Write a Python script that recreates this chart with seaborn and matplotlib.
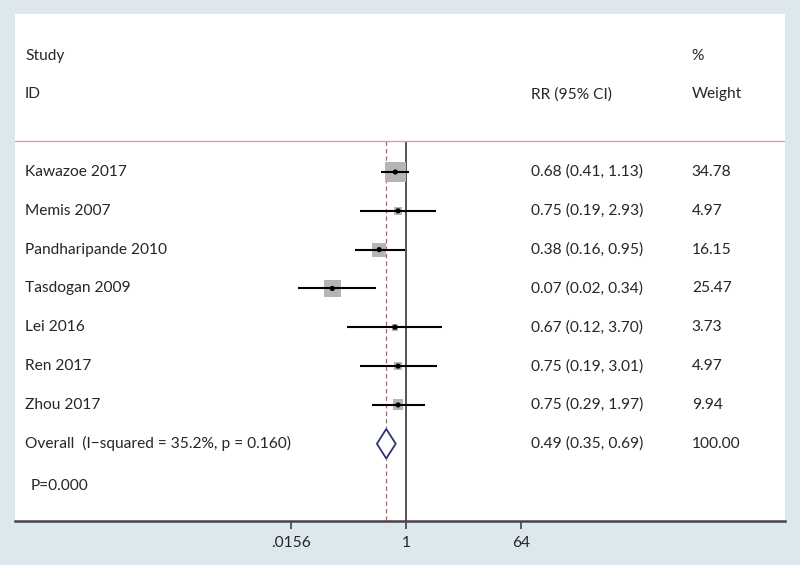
import numpy as np
import pandas as pd
import matplotlib.pyplot as plt
import seaborn as sns
from matplotlib.ticker import NullLocator
from matplotlib.transforms import blended_transform_factory

# data
studies = ["Kawazoe 2017", "Memis 2007", "Pandharipande 2010", "Tasdogan 2009",
           "Lei 2016", "Ren 2017", "Zhou 2017"]
rr = [0.68, 0.75, 0.38, 0.07, 0.67, 0.75, 0.75]
ci_low = [0.41, 0.19, 0.16, 0.02, 0.12, 0.19, 0.29]
ci_high = [1.13, 2.93, 0.95, 0.34, 3.70, 3.01, 1.97]
weights = [34.78, 4.97, 16.15, 25.47, 3.73, 4.97, 9.94]

overall_label = "Overall  (I\u2212squared = 35.2%, p = 0.160)"
overall_rr = 0.49
overall_low = 0.35
overall_high = 0.69
overall_weight = 100.00
p_label = "P=0.000"

tick_values = [1 / 64, 1, 64]
tick_labels = [".0156", "1", "64"]

sns.set_theme(style="white")
plt.rcParams['font.family'] = ['Lato', 'DejaVu Sans']
fs = 11.2

fig = plt.figure(figsize=(8, 5.65), dpi=100, facecolor="#dde8ee")
ax = fig.add_axes([15 / 800, 44 / 565, 770 / 800, 507 / 565])
ax.set_facecolor("white")

df = pd.DataFrame({
    "study": studies, "rr": rr, "lo": ci_low, "hi": ci_high,
    "w": weights, "row": np.arange(1, len(studies) + 1),
})
n = len(studies)
overall_row = n + 1
p_row = n + 2.08
header_y = 0.2

# pixel layout: 1 at x=406, 19.2 px per log2 unit
ppu = 19.2
ax.set_xscale("log", base=2)
ax.set_xlim(2 ** ((15 - 406) / ppu), 2 ** ((785 - 406) / ppu))
ax.set_ylim(9.99, -3.07)

# reference lines
ax.vlines(1, header_y, 9.99, color="#2b2222", lw=1.1, zorder=1)
ax.vlines(overall_rr, header_y, 9.99, color="#b3615c", lw=0.9,
          linestyles=(0, (3.5, 2.5)), zorder=1)
ax.axhline(header_y, color="#c8a8a6", lw=1.0)

# weight boxes
sns.scatterplot(data=df, x="rr", y="row", size="w",
                sizes=(6.2 * min(weights), 6.2 * max(weights)),
                marker="s", color="#b5b5b5", edgecolor="none",
                legend=False, ax=ax, zorder=2)
# confidence intervals
ax.hlines(df["row"], df["lo"], df["hi"], color="black", lw=1.5, zorder=3)
sns.scatterplot(data=df, x="rr", y="row", color="black", s=14,
                edgecolor="none", legend=False, ax=ax, zorder=4)

# overall diamond
dh = 0.38
ax.fill([overall_low, overall_rr, overall_high, overall_rr],
        [overall_row, overall_row - dh, overall_row, overall_row + dh],
        facecolor="white", edgecolor="#2c3378", lw=1.3, zorder=5)

# text columns
tr = blended_transform_factory(ax.transAxes, ax.transData)
x_id, x_rr, x_w = 0.013, 0.670, 0.879
ax.text(x_id, -2, "Study", transform=tr, va="center", fontsize=fs)
ax.text(x_id, -1, "ID", transform=tr, va="center", fontsize=fs)
ax.text(x_rr, -1, "RR (95% CI)", transform=tr, va="center", fontsize=fs)
ax.text(x_w, -2, "%", transform=tr, va="center", fontsize=fs)
ax.text(x_w, -1, "Weight", transform=tr, va="center", fontsize=fs)

for _, r in df.iterrows():
    ax.text(x_id, r["row"], r["study"], transform=tr, va="center", fontsize=fs)
    ax.text(x_rr, r["row"], f"{r['rr']:.2f} ({r['lo']:.2f}, {r['hi']:.2f})",
            transform=tr, va="center", fontsize=fs)
    ax.text(x_w, r["row"], f"{r['w']:.2f}", transform=tr, va="center", fontsize=fs)

ax.text(x_id, overall_row, overall_label, transform=tr, va="center", fontsize=fs)
ax.text(x_rr, overall_row,
        f"{overall_rr:.2f} ({overall_low:.2f}, {overall_high:.2f})",
        transform=tr, va="center", fontsize=fs)
ax.text(x_w, overall_row, f"{overall_weight:.2f}", transform=tr,
        va="center", fontsize=fs)
ax.text(0.02, p_row, p_label, transform=tr, va="center", fontsize=fs)

# axis styling
for side in ["top", "left", "right"]:
    ax.spines[side].set_visible(False)
ax.spines["bottom"].set_color("#4a4242")
ax.spines["bottom"].set_linewidth(1.8)
ax.set_xticks(tick_values)
ax.set_xticklabels(tick_labels)
ax.xaxis.set_minor_locator(NullLocator())
ax.tick_params(axis="x", bottom=True, direction="out", length=6, width=1.1,
               color="#333333", labelsize=fs, pad=5)
ax.set_yticks([])
ax.set_xlabel("")
ax.set_ylabel("")

plt.savefig("out.png", dpi=100, facecolor=fig.get_facecolor())
